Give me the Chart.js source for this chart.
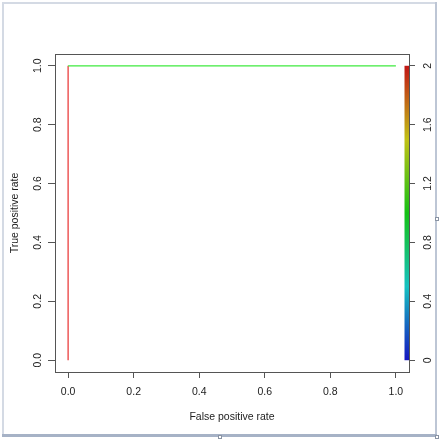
<!DOCTYPE html>
<html>
<head>
<meta charset="utf-8">
<script src="https://cdn.jsdelivr.net/npm/chart.js@4.4.1/dist/chart.umd.min.js"></script>
<style>
  html, body { margin: 0; padding: 0; background: #fff; }
  canvas { display: block; }
</style>
</head>
<body>
<canvas id="rocChart" width="440" height="440"></canvas>
<script>
// ROC curve points (false positive rate, true positive rate) and their cutoffs
const fpr = [0, 0, 1];
const tpr = [0, 1, 1];
const cutoffs = [2, 1, 0];

// tick labels
const xTicks = [0, 0.2, 0.4, 0.6, 0.8, 1.0];
const yTicks = [0, 0.2, 0.4, 0.6, 0.8, 1.0];
const cutoffTicks = [0, 0.4, 0.8, 1.2, 1.6, 2];

const cutMin = 0;
const cutMax = 2;

// rainbow colour for a cutoff value: blue at min, red at max
function cutoffColor(v, light) {
    const t = (v - cutMin) / (cutMax - cutMin);
    const hue = 240 * (1 - t);
    return 'hsl(' + hue + ', 80%, ' + light + '%)';
}

const axisColor = '#555';
const textColor = '#222';
const font = { family: "'Liberation Sans', Arial, sans-serif", size: 10.5 };

const windowFrame = {
    id: 'windowFrame',
    beforeDraw(chart) {
        const c = chart.ctx;
        c.save();
        c.fillStyle = '#fff';
        c.fillRect(0, 0, chart.width, chart.height);
        c.fillStyle = '#d4dae4';
        c.fillRect(2, 2, 2, 433);
        c.fillRect(2, 2, 434, 2);
        c.fillStyle = '#bdc6d5';
        c.fillRect(435, 2, 2, 433);
        c.fillStyle = '#a6b2c6';
        c.fillRect(2, 434, 435, 3);
        // little resize handles
        c.fillStyle = '#fff';
        c.strokeStyle = '#8a94a4';
        c.lineWidth = 1;
        [[218.5, 435.5], [435.5, 217.5], [435.5, 435.5]].forEach(p => {
            c.fillRect(p[0], p[1], 3, 3);
            c.strokeRect(p[0], p[1], 3, 3);
        });
        c.restore();
    }
};

const colorBar = {
    id: 'colorBar',
    afterDatasetsDraw(chart) {
        const c = chart.ctx;
        const a = chart.chartArea;
        const s = chart.scales.y2;
        const top = s.getPixelForValue(cutMax);
        const bot = s.getPixelForValue(cutMin);
        const grad = c.createLinearGradient(0, bot, 0, top);
        for (let i = 0; i <= 12; i++) {
            grad.addColorStop(i / 12, cutoffColor(cutMin + (cutMax - cutMin) * i / 12, 42));
        }
        c.save();
        c.fillStyle = grad;
        c.fillRect(a.right - 4.5, top, 4.5, bot - top);
        // plot box
        c.strokeStyle = axisColor;
        c.lineWidth = 1;
        c.strokeRect(Math.round(a.left) + 0.5, Math.round(a.top) + 0.5,
            Math.round(a.right - a.left), Math.round(a.bottom - a.top));
        c.restore();
    }
};

new Chart(document.getElementById('rocChart').getContext('2d'), {
    type: 'line',
    data: {
        datasets: [{
            data: fpr.map((x, i) => ({ x: x, y: tpr[i] })),
            borderWidth: 1.3,
            pointRadius: 0,
            fill: false,
            tension: 0,
            segment: {
                borderColor: ctx => cutoffColor(cutoffs[ctx.p0DataIndex], 58)
            }
        }]
    },
    options: {
        responsive: false,
        animation: false,
        events: [],
        layout: {
            padding: { top: 54, left: 0, right: 0, bottom: 0 }
        },
        plugins: {
            legend: { display: false },
            tooltip: { enabled: false }
        },
        scales: {
            x: {
                type: 'linear',
                min: -0.04,
                max: 1.04,
                afterBuildTicks: s => { s.ticks = xTicks.map(v => ({ value: v })); },
                afterFit: s => { s.height = 68; },
                border: { display: false },
                grid: {
                    drawOnChartArea: false,
                    drawTicks: true,
                    tickLength: 6,
                    color: axisColor
                },
                ticks: {
                    color: textColor,
                    font: font,
                    padding: 8,
                    maxRotation: 0,
                    minRotation: 0,
                    callback: v => v.toFixed(1)
                },
                title: {
                    display: true,
                    text: 'False positive rate',
                    color: textColor,
                    font: font,
                    padding: { top: 0, bottom: 17 }
                }
            },
            y: {
                type: 'linear',
                position: 'left',
                min: -0.04,
                max: 1.04,
                afterBuildTicks: s => { s.ticks = yTicks.map(v => ({ value: v })); },
                afterFit: s => { s.width = 55; },
                border: { display: false },
                grid: {
                    drawOnChartArea: false,
                    drawTicks: true,
                    tickLength: 7,
                    color: axisColor
                },
                ticks: {
                    color: textColor,
                    font: font,
                    padding: 3,
                    crossAlign: 'center',
                    minRotation: 90,
                    maxRotation: 90,
                    callback: v => v.toFixed(1)
                },
                title: {
                    display: true,
                    text: 'True positive rate',
                    color: textColor,
                    font: font,
                    padding: { top: 9, bottom: 0 }
                }
            },
            y2: {
                type: 'linear',
                position: 'right',
                min: -0.08,
                max: 2.08,
                afterBuildTicks: s => { s.ticks = cutoffTicks.map(v => ({ value: v })); },
                afterFit: s => { s.width = 31; },
                border: { display: false },
                grid: {
                    drawOnChartArea: false,
                    drawTicks: true,
                    tickLength: 6,
                    color: axisColor
                },
                ticks: {
                    color: textColor,
                    font: font,
                    padding: 6,
                    crossAlign: 'center',
                    minRotation: 90,
                    maxRotation: 90,
                    callback: v => String(v)
                }
            }
        }
    },
    plugins: [windowFrame, colorBar]
});
</script>
</body>
</html>
